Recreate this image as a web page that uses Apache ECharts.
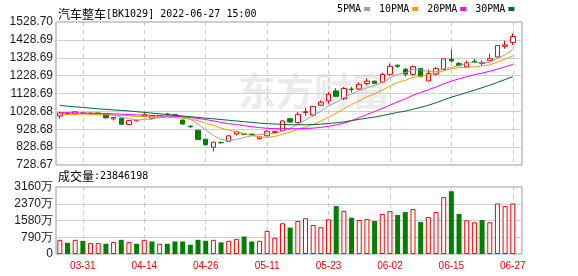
<!DOCTYPE html>
<html><head><meta charset="utf-8">
<script src="https://cdn.jsdelivr.net/npm/echarts@6/dist/echarts.min.js"></script>
<style>html,body{margin:0;padding:0;background:#fff}#c{width:578px;height:276px}</style>
</head><body><div id="c"></div>
<script>
const titleName = '汽车整车';
const titleInfo = '[BK1029] 2022-06-27 15:00';
const volTitleName = '成交量';
const volTitleInfo = ':23846198';
const watermark = '东方财富';

const dates = ['03-28','03-29','03-30','03-31','04-01','04-06','04-07','04-08','04-11','04-12',
  '04-13','04-14','04-15','04-18','04-19','04-20','04-21','04-22','04-25','04-26',
  '04-27','04-28','04-29','05-05','05-06','05-09','05-10','05-11','05-12','05-13',
  '05-16','05-17','05-18','05-19','05-20','05-23','05-24','05-25','05-26','05-27',
  '05-30','05-31','06-01','06-02','06-06','06-07','06-08','06-09','06-10','06-13',
  '06-14','06-15','06-16','06-17','06-20','06-21','06-22','06-23','06-24','06-27'];
const dateLabelIdx = [3,11,19,27,35,43,51,59];

const opens = [1003,1019,1012,1020,1016,1020,1015,987,990,955,
  976,1000,990,995,1014,1010,980,946,923,873,
  828,855,861,902,903,901,876,892,910,920,
  988,966,1022,1008,1063,1087,1143,1100,1154,1154,
  1184,1198,1192,1236,1287,1265,1236,1268,1199,1237,
  1263,1320,1296,1278,1309,1297,1312,1333,1393,1415];
const closes = [1020,1016,1026,1017,1018,1017,993,995,957,977,
  979,1010,1002,1005,1011,1007,958,943,872,842,
  856,853,892,915,901,899,886,917,917,975,
  969,1012,1027,1057,1080,1124,1113,1157,1151,1180,
  1198,1186,1235,1281,1281,1237,1279,1223,1241,1268,
  1323,1311,1285,1300,1303,1302,1323,1397,1400,1447];
const lows = [988,1010,1008,1012,1010,1012,988,978,952,953,
  972,997,985,990,1006,1000,955,936,868,838,
  804,848,858,895,896,893,871,890,906,918,
  965,960,1003,1000,1060,1072,1110,1092,1135,1150,
  1175,1183,1188,1228,1272,1223,1229,1220,1196,1230,
  1258,1305,1280,1275,1298,1283,1310,1330,1379,1400];
const highs = [1024,1022,1030,1024,1024,1022,1018,998,992,979,
  982,1020,1005,1008,1020,1015,982,950,925,874,
  860,860,895,920,906,905,889,922,920,978,
  990,1025,1050,1060,1090,1138,1158,1165,1166,1190,
  1212,1200,1245,1296,1290,1272,1285,1270,1263,1278,
  1326,1375,1305,1313,1322,1315,1351,1400,1424,1465];

// volume in 万
const volumes = [668,528,668,622,514,514,482,561,668,561,
  482,668,591,482,482,591,591,435,668,622,
  668,546,622,715,824,591,622,1089,762,1449,
  1245,1557,1683,1370,1262,1636,2258,2024,1711,1603,
  1650,1557,1884,2024,1837,1977,2118,1510,1744,1977,
  2679,2959,1884,1590,1496,1603,1496,2384,2258,2384];
const volUp = [1,0,1,0,1,1,0,1,0,1,
  0,1,0,1,0,0,0,0,0,0,
  1,0,1,1,0,0,1,1,1,1,
  0,1,1,1,1,1,0,1,0,1,
  1,0,1,1,0,0,1,0,1,1,
  1,0,0,1,1,0,1,1,1,1];

const ma5 = [1010,1012,1016,1018,1019,1019,1014,1008,996,988,
  980,984,985,995,1001,1007,997,985,958,924,
  894,873,863,872,883,892,899,904,904,919,
  933,958,980,1008,1029,1060,1080,1106,1125,1145,
  1160,1174,1190,1216,1236,1244,1263,1260,1252,1250,
  1267,1273,1286,1297,1304,1300,1303,1325,1345,1374];
const ma10 = [1012,1012,1013,1013,1012,1011,1010,1008,1006,1004,
  1000,999,997,995,995,994,990,985,976,963,
  951,935,924,915,904,893,886,883,888,901,
  912,928,942,956,974,996,1019,1043,1067,1087,
  1110,1127,1148,1171,1191,1202,1219,1225,1234,1243,
  1255,1268,1273,1275,1277,1284,1288,1305,1321,1339];
const ma20 = [1022,1021,1020,1019,1018,1017,1016,1015,1013,1011,
  1009,1008,1006,1004,1003,1001,998,994,989,983,
  975,967,960,955,949,943,938,934,932,932,
  932,932,933,935,939,945,953,963,977,994,
  1011,1028,1045,1063,1082,1099,1119,1134,1150,1165,
  1183,1198,1211,1223,1234,1243,1253,1265,1278,1291];
const ma30 = [1062,1058,1054,1051,1047,1043,1040,1037,1034,1031,
  1027,1023,1019,1015,1011,1007,1003,999,995,991,
  987,983,979,975,971,967,963,960,958,956,
  954,954,954,955,957,961,965,970,977,984,
  991,997,1005,1014,1023,1030,1041,1051,1063,1077,
  1093,1108,1121,1134,1147,1161,1175,1191,1207,1223];

const maNames = ['5PMA','10PMA','20PMA','30PMA'];
const maColors = ['#a0a0a0','#f0a000','#ff00ff','#006a30'];

const priceTickLabels = ['728.67','828.68','928.68','1028.68','1128.69','1228.69','1328.69','1428.69','1528.70'];
const priceMin = 728.67, priceMax = 1528.70;
const volTickLabels = ['0','790万','1580万','2370万','3160万'];
const volStep = 790, volMax = 3160;

const RED = '#ff0000', GREEN = '#008000';
const chart = echarts.init(document.getElementById('c'), null, {renderer:'canvas'});

const monoFont = 'DejaVu Sans Mono';
const cjkFont = 'Noto Sans CJK SC';

const maSeries = [ma5, ma10, ma20, ma30].map((arr, k) => ({
  name: maNames[k], type: 'line', xAxisIndex: 0, yAxisIndex: 1,
  data: arr.map((v, i) => [i, v]), symbol: 'none', showSymbol: false,
  color: maColors[k], lineStyle: {width: 1, color: maColors[k]}, z: 3, animation: false
}));

const xCommon = {
  type: 'value', min: -0.5, max: 60.2,
  axisLine: {show: false},
  axisTick: {show: false, customValues: dateLabelIdx},
  splitLine: {show: true, lineStyle: {type: [4, 4], color: '#c8c8c8', width: 1}}
};

chart.setOption({
  animation: false,
  backgroundColor: '#fff',
  title: {
    text: '{a|' + titleName + '}{b|' + titleInfo + '}',
    left: 53, top: 2,
    textStyle: {fontWeight: 'normal', rich: {
      a: {fontFamily: cjkFont, fontSize: 12, fontWeight: 'normal', color: '#000', lineHeight: 14},
      b: {fontFamily: monoFont, fontSize: 10, fontWeight: 'normal', color: '#000', lineHeight: 14}
    }}
  },
  legend: {
    data: maNames, left: 337, top: 4, icon: 'rect', itemWidth: 6, itemHeight: 4,
    itemGap: 9, align: 'right', padding: 0,
    textStyle: {fontFamily: monoFont, fontSize: 10, color: '#000', padding: [0, -2, 0, 0]}
  },
  graphic: [
    {type: 'text', left: 238, top: 72, z: -10, silent: true,
      style: {text: watermark, font: 'bold 38px "Noto Sans CJK SC"', fill: '#ebebeb'}},
    {type: 'text', left: 58, top: 170, silent: true,
      style: {text: '{a|' + volTitleName + '}{b|' + volTitleInfo + '}',
        rich: {a: {fontFamily: cjkFont, fontSize: 12, fill: '#000'}, b: {fontFamily: monoFont, fontSize: 10, fill: '#000'}}}}
  ],
  grid: [
    {left: 56, top: 22, width: 466, height: 143, show: true, borderColor: '#999', borderWidth: 1},
    {left: 56, top: 187, width: 466, height: 67, show: true, borderColor: '#999', borderWidth: 1}
  ],
  xAxis: [
    Object.assign({}, xCommon, {gridIndex: 0, axisLabel: {show: false, customValues: dateLabelIdx}}),
    Object.assign({}, xCommon, {gridIndex: 1, axisLabel: {show: true, customValues: dateLabelIdx,
      formatter: v => dates[Math.round(v)], color: RED, fontSize: 10, fontFamily: 'Liberation Sans', margin: 7}})
  ],
  yAxis: [
    {gridIndex: 0, type: 'value', min: 0, max: priceTickLabels.length - 1, interval: 1,
      axisLine: {show: false}, axisTick: {show: false},
      axisLabel: {formatter: v => priceTickLabels[Math.round(v)], fontSize: 12, fontFamily: 'Liberation Sans', color: '#1a1a2a', margin: 3},
      splitLine: {lineStyle: {color: '#d0d0d0'}}},
    {gridIndex: 0, type: 'value', min: priceMin, max: priceMax, show: false, splitLine: {show: false}},
    {gridIndex: 1, type: 'value', min: 0, max: volMax, interval: volStep,
      axisLine: {show: false}, axisTick: {show: false},
      axisLabel: {formatter: v => volTickLabels[Math.round(v / volStep)], fontSize: 12, fontFamily: 'Liberation Sans', color: '#1a1a2a', margin: 3},
      splitLine: {lineStyle: {color: '#d0d0d0'}}}
  ],
  series: [
    {type: 'candlestick', xAxisIndex: 0, yAxisIndex: 1, barWidth: 5, z: 2,
      data: dates.map((d, i) => [i, opens[i], closes[i], lows[i], highs[i]]),
      itemStyle: {color: '#fff', color0: GREEN, borderColor: RED, borderColor0: GREEN, borderWidth: 1}},
    ...maSeries,
    {type: 'bar', xAxisIndex: 1, yAxisIndex: 2, barWidth: 5,
      data: volumes.map((v, i) => ({value: [i, v],
        itemStyle: volUp[i] ? {color: '#fff', borderColor: RED, borderWidth: 1} : {color: GREEN}}))}
  ]
});
</script></body></html>
